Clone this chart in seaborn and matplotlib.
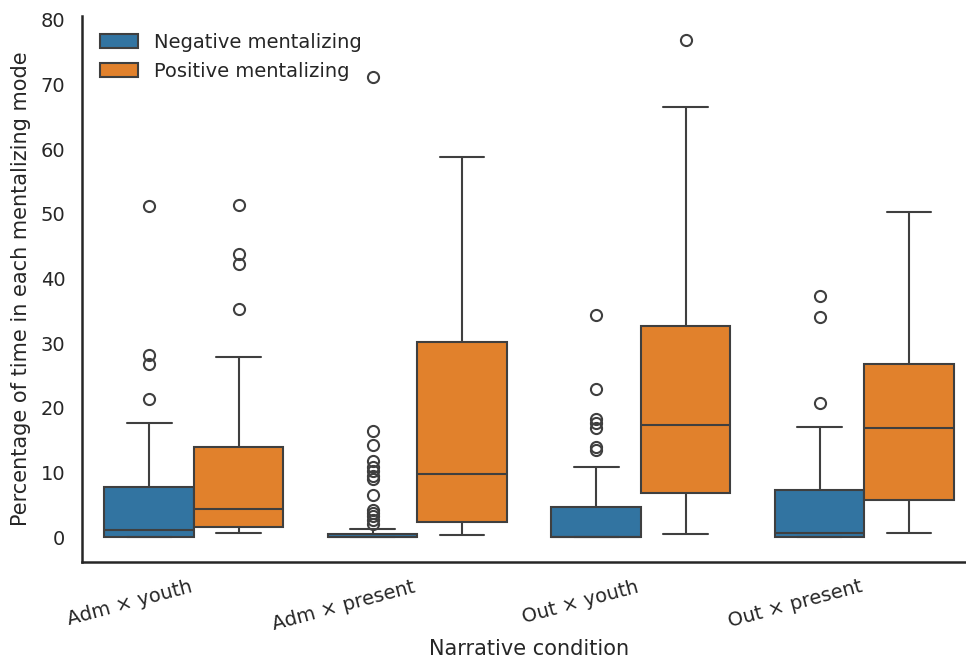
import numpy as np
import pandas as pd
import matplotlib
matplotlib.use("Agg")
import matplotlib.pyplot as plt
import seaborn as sns

# ================================
# Data
# ================================
conditions = ["Adm × youth", "Adm × present", "Out × youth", "Out × present"]
modes = ["Negative mentalizing", "Positive mentalizing"]

# percentage of time per participant, one list per condition x mode
neg_adm_youth = [0, 0, 0, 0, 0, 0, 0, 0.2, 0.4, 0.6, 0.8, 1.0, 1.1,
                 2.0, 3.1, 4.2, 5.4, 6.6, 7.7,
                 12.3, 17.6, 21.4, 26.8, 28.1, 51.2]
pos_adm_youth = [0.6, 0.8, 1.0, 1.1, 1.3, 1.5, 1.6, 2.0, 2.5, 3.0, 3.5, 4.0, 4.4,
                 5.6, 7.2, 8.9, 10.5, 12.2, 13.9,
                 20.5, 27.8, 35.3, 42.3, 43.8, 51.3]

neg_adm_present = [0] * 31 + [0, 0, 0, 0, 0.1, 0.1, 0.2, 0.2, 0.3, 0.3, 0.4, 0.4, 0.5, 0.5,
                              0.5,
                              1.2, 2.0, 2.6, 3.2, 3.7, 4.2, 6.5, 9.0, 9.5, 10.2, 10.8,
                              11.7, 14.2, 16.4, 71.1]
pos_adm_present = [0.4, 0.7, 1.0, 1.4, 1.8, 2.1, 2.3, 3.5, 4.8, 6.0, 7.4, 8.6, 9.7,
                   12.4, 15.8, 19.5, 23.1, 26.9, 30.1,
                   33.5, 37.2, 41.8, 46.0, 52.4, 58.8]

neg_out_youth = [0] * 19 + [0.3, 0.6, 1.0, 1.5, 2.1, 2.8, 3.4, 4.0, 4.6,
                            6.2, 10.8, 13.5, 13.9, 16.8, 17.6, 18.3, 22.9, 34.3]
pos_out_youth = [0.5, 1.6, 2.8, 3.9, 5.0, 6.0, 6.9, 8.5, 10.3, 12.2, 14.1, 15.8, 17.4,
                 19.8, 22.5, 25.3, 28.0, 30.4, 32.7,
                 36.5, 41.2, 47.0, 55.3, 66.5, 76.8]

neg_out_present = [0, 0, 0, 0, 0, 0, 0, 0.1, 0.2, 0.3, 0.4, 0.5, 0.6,
                   1.5, 2.6, 3.8, 5.0, 6.2, 7.3,
                   9.8, 13.4, 17.0, 20.7, 34.1, 37.3]
pos_out_present = [0.6, 1.5, 2.4, 3.3, 4.2, 5.0, 5.7, 7.6, 9.5, 11.4, 13.3, 15.1, 16.8,
                   18.5, 20.2, 21.9, 23.5, 25.1, 26.7,
                   30.2, 34.0, 38.5, 43.1, 46.8, 50.2]

groups = {
    (conditions[0], modes[0]): neg_adm_youth,
    (conditions[0], modes[1]): pos_adm_youth,
    (conditions[1], modes[0]): neg_adm_present,
    (conditions[1], modes[1]): pos_adm_present,
    (conditions[2], modes[0]): neg_out_youth,
    (conditions[2], modes[1]): pos_out_youth,
    (conditions[3], modes[0]): neg_out_present,
    (conditions[3], modes[1]): pos_out_present,
}

rows = []
for (cond, mode), vals in groups.items():
    for v in vals:
        rows.append({"condition": cond, "mode": mode, "pct": v})
df = pd.DataFrame(rows)

# ================================
# Plot
# ================================
sns.set_theme(style="white")
plt.rcParams['font.family'] = ['DejaVu Sans']

fig = plt.figure(figsize=(9.66, 6.64), dpi=100)
ax = fig.add_axes([0.085, 0.1536, 0.9255, 0.823])

sns.boxplot(data=df, x="condition", y="pct", hue="mode",
            order=conditions, hue_order=modes, ax=ax,
            palette=["#1f77b4", "#ff7f0e"], linewidth=1.5, fliersize=8,
            flierprops={"markeredgewidth": 1.5})

ax.set_xlabel("Narrative condition", fontsize=15, labelpad=4, color="#262626")
ax.set_ylabel("Percentage of time in each mentalizing mode", fontsize=15,
              labelpad=7, color="#262626")
ax.tick_params(axis="y", labelsize=14, pad=6)
ax.tick_params(axis="x", labelsize=14, pad=5)
plt.setp(ax.get_xticklabels(), rotation=15, ha="right")

sns.move_legend(ax, "upper left", title=None, frameon=False, fontsize=14)
sns.despine(ax=ax)
for s in ["left", "bottom"]:
    ax.spines[s].set_color("#262626")
    ax.spines[s].set_linewidth(1.8)

fig.savefig("out.png", dpi=100)
